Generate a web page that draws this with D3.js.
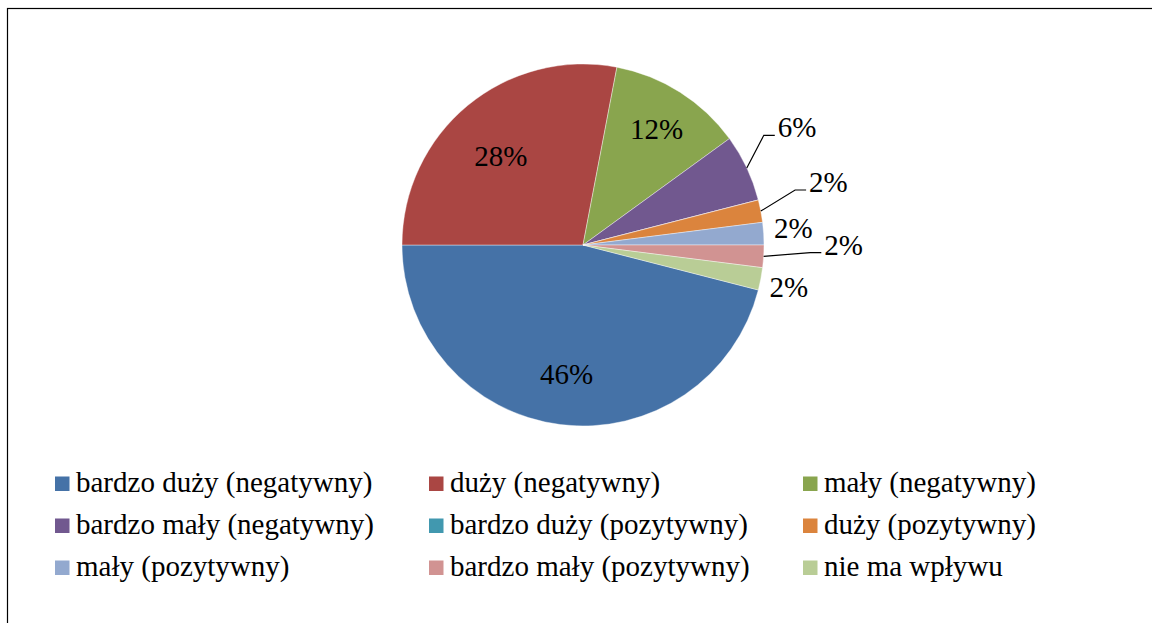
<!DOCTYPE html>
<html>
<head>
<meta charset="utf-8">
<script src="https://cdn.jsdelivr.net/npm/d3@7"></script>
<style>
  body { margin: 0; background: #fff; }
  svg text { font-family: "Times New Roman", "Liberation Serif", Tinos, "DejaVu Serif", serif; }
</style>
</head>
<body>
<svg id="chart" width="1152" height="623"></svg>
<script>
const categories = [
  "bardzo duży (negatywny)", "duży (negatywny)", "mały (negatywny)",
  "bardzo mały (negatywny)", "bardzo duży (pozytywny)", "duży (pozytywny)",
  "mały (pozytywny)", "bardzo mały (pozytywny)", "nie ma wpływu"
];
const values = [46, 28, 12, 6, 0, 2, 2, 2, 2];
const colors = ["#4572A7", "#AA4643", "#89A54E", "#71588F", "#4198AF",
                "#DB843D", "#93A9CF", "#D19392", "#B9CD96"];

// label placement: distance from centre (in radii) and angle nudge (deg)
const labelDist = [0.72, 0.67, 0.76, 1.35, 0, 1.40, 1.165, 1.44, 1.16];
const labelNudge = [0, -3, 0, -3.6, 0, -3.6, -0.9, -3.7, 0.7];

const svg = d3.select("#chart");
const W = 1152, H = 623;
const cx = 583, cy = 245, R = 181;
const FONT = 29;
const SERIF = '"Times New Roman", "Liberation Serif", Tinos, "DejaVu Serif", serif';
const firstSlice = 104.4 * Math.PI / 180;

svg.append("rect")
  .attr("x", 7.5).attr("y", 8.5)
  .attr("width", W + 20).attr("height", H + 20)
  .attr("fill", "none")
  .attr("stroke", "#000")
  .attr("stroke-width", 1.2);

const pie = d3.pie()
  .sort(null)
  .value(d => d)
  .startAngle(firstSlice)
  .endAngle(firstSlice + 2 * Math.PI);

const arcs = pie(values);
const arc = d3.arc().innerRadius(0).outerRadius(R);

const g = svg.append("g").attr("transform", `translate(${cx},${cy})`);

g.selectAll("path.slice")
  .data(arcs)
  .join("path")
  .attr("class", "slice")
  .attr("d", arc)
  .attr("fill", (d, i) => colors[i])
  .attr("stroke", "#fff")
  .attr("stroke-width", 0.4);

function polar(a, r) {
  return [Math.sin(a) * r, -Math.cos(a) * r];
}

const labels = arcs
  .map((d, i) => {
    const mid = (d.startAngle + d.endAngle) / 2;
    const a = mid + labelNudge[i] * Math.PI / 180;
    const [x, y] = polar(a, R * labelDist[i]);
    return { i, mid, x, y, text: values[i] + "%", outside: labelDist[i] > 1.25 };
  })
  .filter(d => values[d.i] > 0);

const labelText = g.selectAll("text.lbl")
  .data(labels)
  .join("text")
  .attr("class", "lbl")
  .attr("x", d => d.x)
  .attr("y", d => d.y)
  .attr("text-anchor", "middle")
  .attr("dominant-baseline", "central")
  .attr("font-family", SERIF)
  .attr("font-size", FONT)
  .attr("fill", "#000")
  .text(d => d.text);

// leader lines for labels pushed far from the pie
labelText.each(function(d) {
  if (!d.outside) return;
  const bb = this.getBBox();
  const start = polar(d.mid, R);
  const endX = bb.x - 3, endY = d.y + 8;
  g.append("path")
    .attr("d", d3.line()([start, [endX - 11, endY], [endX, endY]]))
    .attr("fill", "none")
    .attr("stroke", "#000")
    .attr("stroke-width", 1.2);
});

// legend
const legX = d3.scalePoint().domain([0, 1, 2]).range([55, 803]);
const legY = d3.scalePoint().domain([0, 1, 2]).range([484, 568]);

const leg = svg.selectAll("g.leg")
  .data(categories)
  .join("g")
  .attr("class", "leg")
  .attr("transform", (d, i) => `translate(${legX(i % 3)},${legY(Math.floor(i / 3))})`);

leg.append("rect")
  .attr("x", 0).attr("y", -7.5)
  .attr("width", 14.5).attr("height", 14.5)
  .attr("fill", (d, i) => colors[i]);

leg.append("text")
  .attr("x", 21)
  .attr("y", 8)
  .attr("font-family", SERIF)
  .attr("font-size", FONT)
  .attr("fill", "#000")
  .text(d => d);
</script>
</body>
</html>
